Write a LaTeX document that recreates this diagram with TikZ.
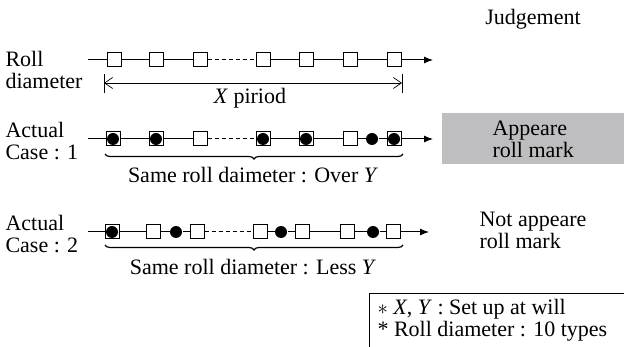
\documentclass[tikz,border=0pt]{standalone}
\usepackage{fontspec}
\setmainfont{Liberation Serif}
\usetikzlibrary{arrows.meta,decorations.pathreplacing}

\definecolor{markgray}{RGB}{190,190,192}

\begin{document}
\fontsize{22}{22}\selectfont
\begin{tikzpicture}[x=1pt,y=-1pt,line width=1pt,
  sq/.style={draw,fill=white,minimum size=14pt,inner sep=0pt},
  dot/.style={circle,fill=black,minimum size=12pt,inner sep=0pt},
  lbl/.style={align=left,anchor=west,inner sep=0pt,font=\fontsize{22}{22}\selectfont},
  flow/.style={-{Latex[length=9pt,width=7pt]}},
  dim/.style={{Straight Barb[length=8pt,width=11pt]}-{Straight Barb[length=8pt,width=11pt]},line width=0.7pt},
  brc/.style={decorate,decoration={brace,mirror,amplitude=5pt},line width=1.2pt}]
\useasboundingbox (0,0) rectangle (624,347);

% row labels
\node[lbl] (rolltxt) at (5,70) {Roll\\diameter};
\node[lbl] (case1txt) at (5,141) {Actual\\Case : 1};
\node[lbl] (case2txt) at (5,234) {Actual\\Case : 2};
\node[anchor=center,inner sep=0pt] (judge) at (533,19) {Judgement};

% roll diameter row
\coordinate (r1s) at (88,60);
\coordinate (r1e) at (433,60);
\foreach \i/\x in {1/114,2/156,3/200,4/263,5/306,6/350,7/394}{
	\node[sq] (r1\i) at (\x,60) {};
}
\foreach \p/\q in {r1s/r11,r11/r12,r12/r13,r14/r15,r15/r16,r16/r17}{
	\draw (\p) -- (\q);
}
\draw[dashed,dash pattern=on 4pt off 3pt] (r13) -- (r14);
\draw[flow] (r17) -- (r1e);

% X period
\coordinate (xl) at (104,83);
\coordinate (xr) at (402,83);
\draw[line width=0.7pt] (104,74) -- (104,93);
\draw[line width=0.7pt] (402,74) -- (402,93);
\draw[dim] (xl) -- (xr);
\node[inner sep=0pt] (xper) at (250,98) {\textit{X} piriod};

% case 1
\coordinate (c1s) at (88,139);
\coordinate (c1e) at (433,139);
\foreach \i/\x in {1/113,2/156,3/200,4/263,5/306,6/350,7/394}{
	\node[sq] (c1\i) at (\x,139) {};
}
\foreach \i/\x in {1/113,2/156,4/263,5/306,7/394}{
	\node[dot] (c1d\i) at (\x,139) {};
}
\node[dot] (c1d6) at (372,139) {};
\foreach \p/\q in {c1s/c11,c11/c12,c12/c13,c14/c15,c15/c16,c16/c1d6,c1d6/c17}{
	\draw (\p) -- (\q);
}
\draw[dashed,dash pattern=on 4pt off 3pt] (c13) -- (c14);
\draw[flow] (c17) -- (c1e);
\draw[brc] (105,154) -- (403,154);
\node[inner sep=0pt] (over) at (253,175) {Same roll daimeter : Over \textit{Y}};

% judgement 1
\fill[markgray] (442,113) rectangle (630,164);
\node[lbl] (appear) at (492,139) {Appeare\\roll mark};

% case 2
\coordinate (c2s) at (88,232);
\coordinate (c2e) at (429,232);
\foreach \i/\x in {1/112,2/153,3/197,4/260,5/302,6/347,7/393}{
	\node[sq] (c2\i) at (\x,232) {};
}
\foreach \i/\x in {1/112,2/176,5/281,7/373}{
	\node[dot] (c2d\i) at (\x,232) {};
}
\foreach \p/\q in {c2s/c21,c21/c22,c22/c2d2,c2d2/c23,c24/c2d5,c2d5/c25,c25/c26,c26/c2d7,c2d7/c27}{
	\draw (\p) -- (\q);
}
\draw[dashed,dash pattern=on 4pt off 3pt] (c23) -- (c24);
\draw[flow] (c27) -- (c2e);
\draw[brc] (105,245) -- (403,245);
\node[inner sep=0pt] (less) at (253,267) {Same roll diameter : Less \textit{Y}};

% judgement 2
\node[lbl] (notappear) at (479,230) {Not appeare\\roll mark};

% note
\draw[line width=0.7pt] (369,293) rectangle (640,360);
\node[lbl] (note) at (377,320) {$\ast$ \textit{X}, \textit{Y} : Set up at will\\* Roll diameter : 10 types};
\end{tikzpicture}
\end{document}
